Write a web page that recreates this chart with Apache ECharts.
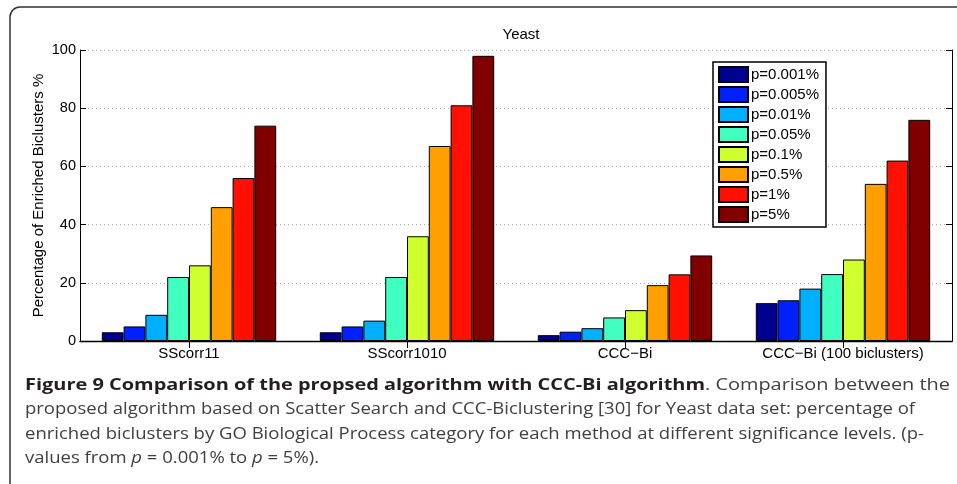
<!DOCTYPE html>
<html>
<head>
<meta charset="utf-8">
<script src="https://cdn.jsdelivr.net/npm/echarts@6/dist/echarts.min.js"></script>
<style>
html,body{margin:0;padding:0;background:#fff;}
#chart{width:957px;height:484px;}
</style>
</head>
<body>
<div id="chart"></div>
<script>
var categories = ['SScorr11', 'SScorr1010', 'CCC\u2212Bi', 'CCC\u2212Bi (100 biclusters)'];
var seriesNames = ['p=0.001%', 'p=0.005%', 'p=0.01%', 'p=0.05%', 'p=0.1%', 'p=0.5%', 'p=1%', 'p=5%'];
var colors = ['#000090', '#0020ff', '#00b0ff', '#40ffc0', '#d0ff30', '#ffa000', '#ff1000', '#800000'];
var p0001 = [3, 3, 2.0, 13];
var p0005 = [5, 5, 3.2, 14];
var p001 = [9, 7, 4.4, 18];
var p005 = [22, 22, 8.1, 23];
var p01 = [26, 36, 10.6, 28];
var p05 = [46, 67, 19.2, 54];
var p1 = [56, 81, 22.9, 62];
var p5 = [74, 98, 29.4, 76];
var seriesValues = [p0001, p0005, p001, p005, p01, p05, p1, p5];
var yTicks = [0, 20, 40, 60, 80, 100];

var capFont = '"Open Sans", "DejaVu Sans", sans-serif';
var capSize = 16.5;
var cv = document.createElement('canvas').getContext('2d');
function measureRich(str) {
  var re = /\{(\w)\|([^}]*)\}/g, m, w = 0;
  while ((m = re.exec(str))) {
    var st = m[1] === 'b' ? 'bold ' : (m[1] === 'i' ? 'italic ' : '');
    cv.font = st + capSize + 'px ' + capFont;
    w += cv.measureText(m[2]).width;
  }
  return w;
}
// caption pieces: [text, x, line index, target width (null = use line 2 scale)]
var captionPieces = [
  ['{b|Figure 9 Comparison of the propsed algorithm with CCC-Bi algorithm}', 25, 0, 680],
  ['{n|. Comparison between the}', 705, 0, 245],
  ['{n|proposed algorithm based on Scatter Search and CCC-Biclustering [30] for Yeast data set: percentage of}', 25, 1, 890],
  ['{n|enriched biclusters by GO Biological Process category for each method at different significance levels. (p-}', 25, 2, 899],
  ['{n|values from }{i|p}{n| = 0.001% to }{i|p}{n| = 5%).}', 25, 3, null]
];
var baseScale = 890 / measureRich(captionPieces[2][0]);

var chart = echarts.init(document.getElementById('chart'));
var axisFont = '"Liberation Sans", Arial, sans-serif';

var series = seriesNames.map(function (name, i) {
  return {
    name: name,
    type: 'bar',
    data: seriesValues[i],
    barGap: '0%',
    barCategoryGap: '20%',
    itemStyle: { color: colors[i], borderColor: '#000', borderWidth: 1 },
    emphasis: { disabled: true },
    animation: false
  };
});

var graphics = [
  {
    type: 'rect',
    shape: { x: 10, y: 7, width: 970, height: 500, r: 10 },
    style: { fill: 'none', stroke: '#333', lineWidth: 1.5 },
    z: 0, silent: true
  }
];
captionPieces.forEach(function (pc) {
  var sc = pc[3] ? pc[3] / measureRich(pc[0]) : baseScale;
  graphics.push({
    type: 'text',
    x: pc[1],
    y: 385 + pc[2] * 24.5,
    scaleX: sc,
    style: {
      text: pc[0],
      verticalAlign: 'middle',
      align: 'left',
      rich: {
        b: { fontFamily: capFont, fontSize: capSize, fontWeight: 'bold', fill: '#231f20' },
        n: { fontFamily: capFont, fontSize: capSize, fill: '#404040' },
        i: { fontFamily: capFont, fontSize: capSize, fontStyle: 'italic', fill: '#404040' }
      }
    },
    silent: true
  });
});

chart.setOption({
  animation: false,
  backgroundColor: '#fff',
  title: {
    text: 'Yeast',
    left: 516,
    textAlign: 'center',
    top: 22,
    textStyle: { fontFamily: axisFont, fontSize: 15, fontWeight: 'normal', color: '#000' }
  },
  legend: {
    orient: 'vertical',
    left: 713,
    top: 62,
    itemWidth: 29,
    itemHeight: 15,
    itemGap: 3,
    padding: [4, 7, 4, 5],
    backgroundColor: '#fff',
    borderColor: '#000',
    borderWidth: 1.5,
    borderRadius: 0,
    selectedMode: false,
    textStyle: { fontFamily: axisFont, fontSize: 15, color: '#000', padding: [0, 0, 0, -2] },
    data: seriesNames.map(function (n) { return { name: n, icon: 'rect' }; })
  },
  grid: { left: 80, right: 5, top: 50, bottom: 143, containLabel: false },
  xAxis: [
    {
      type: 'category',
      data: categories,
      position: 'bottom',
      axisLine: { show: true, lineStyle: { color: '#000', width: 1 } },
      axisTick: { show: true, inside: true, alignWithLabel: true, length: 6, lineStyle: { color: '#000' } },
      axisLabel: { fontFamily: axisFont, fontSize: 15, color: '#000', margin: 5 },
      splitLine: { show: false }
    },
    {
      type: 'category',
      data: categories,
      position: 'top',
      axisLine: { show: true, lineStyle: { color: '#000', width: 1.3 } },
      axisTick: { show: true, inside: true, alignWithLabel: true, length: 7, lineStyle: { color: '#000' } },
      axisLabel: { show: false },
      splitLine: { show: false }
    }
  ],
  yAxis: [
    {
      type: 'value',
      min: 0, max: 100, interval: 20,
      name: 'Percentage of Enriched Biclusters %',
      nameLocation: 'middle',
      nameGap: 34,
      nameMoveOverlap: false,
      nameTextStyle: { fontFamily: axisFont, fontSize: 15, color: '#000' },
      axisLine: { show: true, lineStyle: { color: '#000', width: 1 } },
      axisTick: { show: true, inside: true, length: 6, lineStyle: { color: '#000' } },
      axisLabel: { fontFamily: axisFont, fontSize: 14.5, color: '#000', margin: 4,
        formatter: function (v) { return yTicks.indexOf(v) >= 0 ? String(v) : ''; } },
      splitLine: { show: true, lineStyle: { color: '#aaa', type: [1, 3], width: 1 } }
    },
    {
      type: 'value',
      min: 0, max: 100, interval: 20,
      position: 'right',
      axisLine: { show: true, lineStyle: { color: '#000', width: 1 } },
      axisTick: { show: true, inside: true, length: 6, lineStyle: { color: '#000' } },
      axisLabel: { show: false },
      splitLine: { show: false }
    }
  ],
  series: series,
  graphic: graphics
});
</script>
</body>
</html>
